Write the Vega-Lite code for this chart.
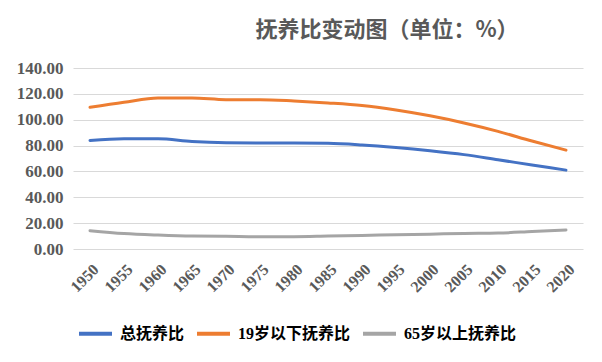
{
  "$schema": "https://vega.github.io/schema/vega-lite/v6.json",
  "autosize": "none",
  "width": 510,
  "height": 181,
  "padding": {"left": 73, "top": 68, "right": 19, "bottom": 113},
  "background": "white",
  "title": {
    "text": "抚养比变动图（单位：%）",
    "anchor": "middle",
    "dx": 59,
    "offset": 17,
    "font": "Noto Sans CJK SC",
    "fontSize": 22,
    "fontWeight": "bold",
    "color": "#595959"
  },
  "config": {
    "view": {"stroke": null},
    "font": "Noto Sans CJK SC"
  },
  "data": {
    "values": [
      {"year": "1950", "series": "总抚养比", "value": 84.0},
      {"year": "1955", "series": "总抚养比", "value": 85.3},
      {"year": "1960", "series": "总抚养比", "value": 85.3},
      {"year": "1965", "series": "总抚养比", "value": 83.2},
      {"year": "1970", "series": "总抚养比", "value": 82.2},
      {"year": "1975", "series": "总抚养比", "value": 82.0},
      {"year": "1980", "series": "总抚养比", "value": 82.0},
      {"year": "1985", "series": "总抚养比", "value": 81.8},
      {"year": "1990", "series": "总抚养比", "value": 80.5},
      {"year": "1995", "series": "总抚养比", "value": 78.5},
      {"year": "2000", "series": "总抚养比", "value": 76.0},
      {"year": "2005", "series": "总抚养比", "value": 73.0},
      {"year": "2010", "series": "总抚养比", "value": 69.0},
      {"year": "2015", "series": "总抚养比", "value": 65.0},
      {"year": "2020", "series": "总抚养比", "value": 61.0},
      {"year": "1950", "series": "19岁以下抚养比", "value": 109.6},
      {"year": "1955", "series": "19岁以下抚养比", "value": 113.5},
      {"year": "1960", "series": "19岁以下抚养比", "value": 116.8},
      {"year": "1965", "series": "19岁以下抚养比", "value": 116.8},
      {"year": "1970", "series": "19岁以下抚养比", "value": 115.5},
      {"year": "1975", "series": "19岁以下抚养比", "value": 115.5},
      {"year": "1980", "series": "19岁以下抚养比", "value": 114.5},
      {"year": "1985", "series": "19岁以下抚养比", "value": 113.0},
      {"year": "1990", "series": "19岁以下抚养比", "value": 111.0},
      {"year": "1995", "series": "19岁以下抚养比", "value": 107.5},
      {"year": "2000", "series": "19岁以下抚养比", "value": 103.0},
      {"year": "2005", "series": "19岁以下抚养比", "value": 97.5},
      {"year": "2010", "series": "19岁以下抚养比", "value": 91.0},
      {"year": "2015", "series": "19岁以下抚养比", "value": 83.5},
      {"year": "2020", "series": "19岁以下抚养比", "value": 76.5},
      {"year": "1950", "series": "65岁以上抚养比", "value": 14.2},
      {"year": "1955", "series": "65岁以上抚养比", "value": 12.0},
      {"year": "1960", "series": "65岁以上抚养比", "value": 10.8},
      {"year": "1965", "series": "65岁以上抚养比", "value": 10.0},
      {"year": "1970", "series": "65岁以上抚养比", "value": 9.8},
      {"year": "1975", "series": "65岁以上抚养比", "value": 9.5},
      {"year": "1980", "series": "65岁以上抚养比", "value": 9.5},
      {"year": "1985", "series": "65岁以上抚养比", "value": 10.0},
      {"year": "1990", "series": "65岁以上抚养比", "value": 10.5},
      {"year": "1995", "series": "65岁以上抚养比", "value": 11.0},
      {"year": "2000", "series": "65岁以上抚养比", "value": 11.5},
      {"year": "2005", "series": "65岁以上抚养比", "value": 12.0},
      {"year": "2010", "series": "65岁以上抚养比", "value": 12.3},
      {"year": "2015", "series": "65岁以上抚养比", "value": 13.5},
      {"year": "2020", "series": "65岁以上抚养比", "value": 14.7}
    ]
  },
  "mark": {"type": "line", "strokeWidth": 3, "interpolate": "monotone", "strokeCap": "round"},
  "encoding": {
    "x": {
      "field": "year",
      "type": "ordinal",
      "scale": {"type": "point", "padding": 0.5},
      "axis": {
        "title": null,
        "labelAngle": -45,
        "labelFont": "Liberation Serif",
        "labelFontSize": 16,
        "labelFontWeight": "bold",
        "labelColor": "#595959",
        "ticks": false,
        "domain": false,
        "labelPadding": 12
      }
    },
    "y": {
      "field": "value",
      "type": "quantitative",
      "scale": {"domain": [0, 140], "nice": false},
      "axis": {
        "title": null,
        "values": [0, 20, 40, 60, 80, 100, 120, 140],
        "format": ".2f",
        "labelFont": "Liberation Serif",
        "labelFontSize": 17,
        "labelFontWeight": "bold",
        "labelColor": "#595959",
        "ticks": false,
        "domain": false,
        "labelPadding": 10,
        "gridColor": "#d9d9d9",
        "gridWidth": 1
      }
    },
    "color": {
      "field": "series",
      "type": "nominal",
      "sort": ["总抚养比", "19岁以下抚养比", "65岁以上抚养比"],
      "scale": {
        "domain": ["总抚养比", "19岁以下抚养比", "65岁以上抚养比"],
        "range": ["#4472C4", "#ED7D31", "#A5A5A5"]
      },
      "legend": {
        "title": null,
        "orient": "none",
        "direction": "horizontal",
        "legendX": 4,
        "legendY": 247,
        "symbolType": "stroke",
        "symbolSize": 1089,
        "symbolStrokeWidth": 4,
        "labelFont": "Liberation Serif, Noto Sans CJK SC",
        "labelFontSize": 16,
        "labelFontWeight": "bold",
        "labelColor": "#000000",
        "labelOffset": 6,
        "columnPadding": 4
      }
    }
  }
}
